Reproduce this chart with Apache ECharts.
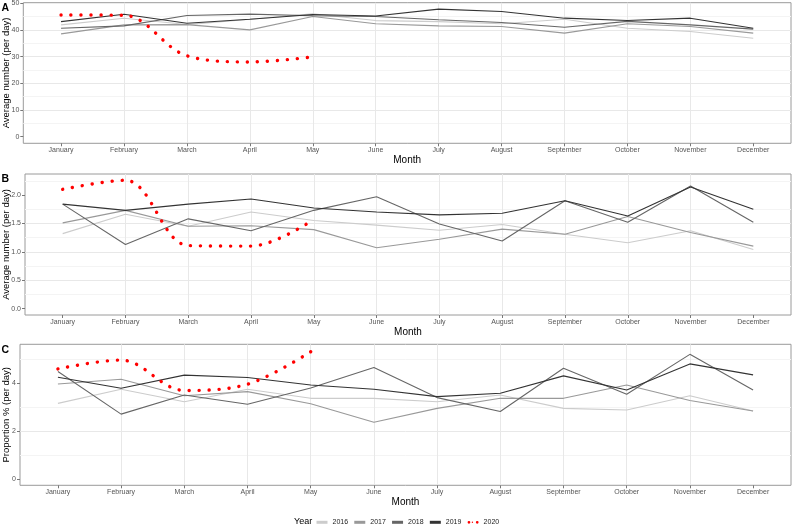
<!DOCTYPE html>
<html>
<head>
<meta charset="utf-8">
<script src="https://cdn.jsdelivr.net/npm/echarts@6/dist/echarts.min.js"></script>
<style>html,body{margin:0;padding:0;background:#fff}#c{width:793px;height:527px}</style>
</head>
<body>
<div id="c"></div>
<script>
const months = ['January','February','March','April','May','June','July','August','September','October','November','December'];
const years = ['2016','2017','2018','2019','2020'];

const a2016 = [41.9, 44.4, 42.0, 44.0, 46.0, 43.5, 43.1, 42.3, 44.0, 40.6, 39.4, 36.9];
const a2017 = [38.5, 41.9, 42.0, 40.0, 45.0, 42.3, 41.5, 41.3, 38.8, 42.3, 41.3, 38.8];
const a2018 = [40.6, 41.5, 45.4, 45.9, 45.3, 45.0, 43.8, 42.8, 41.0, 43.2, 41.9, 40.3];
const a2019 = [43.1, 45.9, 42.5, 44.0, 45.8, 45.2, 47.8, 46.9, 44.4, 43.5, 44.4, 40.6];
const a2020 = [45.6, 45.5, 30.3, 28.0, 29.9];

const b2016 = [1.32, 1.66, 1.45, 1.70, 1.55, 1.47, 1.38, 1.48, 1.31, 1.16, 1.37, 1.04];
const b2017 = [1.51, 1.73, 1.45, 1.46, 1.39, 1.07, 1.22, 1.40, 1.31, 1.62, 1.34, 1.10];
const b2018 = [1.84, 1.13, 1.58, 1.37, 1.73, 1.97, 1.49, 1.19, 1.90, 1.52, 2.16, 1.52];
const b2019 = [1.84, 1.73, 1.84, 1.93, 1.77, 1.70, 1.65, 1.68, 1.90, 1.63, 2.14, 1.75];
const b2020 = [2.10, 2.26, 1.11, 1.10, 1.57];

const c2016 = [3.16, 3.75, 3.23, 3.75, 3.37, 3.37, 3.23, 3.51, 2.95, 2.88, 3.48, 2.84];
const c2017 = [3.97, 4.17, 3.48, 3.65, 3.14, 2.37, 2.95, 3.37, 3.37, 3.93, 3.28, 2.84];
const c2018 = [4.49, 2.71, 3.51, 3.12, 3.80, 4.66, 3.40, 2.82, 4.63, 3.54, 5.21, 3.72];
const c2019 = [4.25, 3.79, 4.34, 4.24, 3.93, 3.75, 3.44, 3.58, 4.31, 3.72, 4.81, 4.35];
const c2020 = [4.60, 4.97, 3.70, 3.96, 5.32];

const yTicksA = [0, 10, 20, 30, 40, 50];
const yTicksB = [0.0, 0.5, 1.0, 1.5, 2.0];
const yTicksC = [0, 2, 4];

const FONT = "'Liberation Sans', Arial, sans-serif";
const lineColors = ['#cccccc', '#999999', '#666666', '#333333'];
const monthIdx = months.map((m, i) => i);

const panels = [
  {label: 'A', title: 'Average number (per day)', data: [a2016, a2017, a2018, a2019, a2020], ticks: yTicksA,
   grid: {left: 23.3, right: 2, top: 2.7, height: 140.6}, ymin: -2.5, ymax: 50.2, split: 5, gap: 12, fmt: v => String(v)},
  {label: 'B', title: 'Average number (per day)', data: [b2016, b2017, b2018, b2019, b2020], ticks: yTicksB,
   grid: {left: 25, right: 2, top: 174, height: 141}, ymin: -0.113, ymax: 2.37, split: 5, gap: 13.5, fmt: v => v.toFixed(1)},
  {label: 'C', title: 'Proportion % (per day)', data: [c2016, c2017, c2018, c2019, c2020], ticks: yTicksC,
   grid: {left: 20, right: 2, top: 344.3, height: 141}, ymin: -0.268, ymax: 5.63, split: 3, gap: 8.5, fmt: v => String(v)}
];

const grids = [], xAxes = [], yAxes = [], series = [];
panels.forEach((p, pi) => {
  grids.push(Object.assign({show: true, borderColor: '#9a9a9a', borderWidth: 1, backgroundColor: 'transparent',
    containLabel: false, outerBoundsMode: 'none'}, p.grid));
  xAxes.push({
    type: 'value', gridIndex: pi, min: -0.6, max: 11.6, splitNumber: 12,
    name: 'Month', nameLocation: 'middle', nameGap: 12, nameMoveOverlap: false,
    nameTextStyle: {fontFamily: FONT, fontSize: 10, color: '#000'},
    axisLine: {show: false, onZero: false},
    axisTick: {show: true, length: 3, customValues: monthIdx, lineStyle: {color: '#777', width: 1}},
    axisLabel: {customValues: monthIdx, margin: 3.5, fontFamily: FONT, fontSize: 7, color: '#555',
      formatter: v => (Number.isInteger(v) && v >= 0 && v < 12) ? months[v] : ''},
    splitLine: {show: true, showMinLine: false, showMaxLine: false, lineStyle: {color: '#e8e8e8', width: 1}}
  });
  yAxes.push({
    type: 'value', gridIndex: pi, min: p.ymin, max: p.ymax, splitNumber: p.split,
    name: p.title, nameLocation: 'middle', nameRotate: 90, nameGap: p.gap, nameMoveOverlap: false,
    nameTextStyle: {fontFamily: FONT, fontSize: 9.5, color: '#000'},
    axisLine: {show: false, onZero: false},
    axisTick: {show: true, length: 3, customValues: p.ticks, lineStyle: {color: '#777', width: 1}},
    axisLabel: {customValues: p.ticks, margin: 4, fontFamily: FONT, fontSize: 7, color: '#555', formatter: p.fmt},
    splitLine: {show: true, showMinLine: false, showMaxLine: false, lineStyle: {color: '#e8e8e8', width: 1}},
    minorTick: {show: false, splitNumber: 2},
    minorSplitLine: {show: true, lineStyle: {color: '#f4f4f4', width: 1}}
  });
  p.data.forEach((arr, si) => {
    const isRed = si === 4;
    series.push({
      name: years[si], type: 'line', xAxisIndex: pi, yAxisIndex: pi,
      data: arr.map((v, i) => [i, v]),
      symbol: 'none', silent: true, z: isRed ? 10 : 2 + si,
      smooth: isRed ? 0.35 : false,
      lineStyle: isRed
        ? {color: '#ff0000', width: 3.4, type: [0.1, 9.9], cap: 'round'}
        : {color: lineColors[si], width: 1.1},
      itemStyle: {color: isRed ? '#ff0000' : lineColors[si]}
    });
  });
});

const dotsIcon = 'path://M0,2a2,2 0 1,0 4,0a2,2 0 1,0 -4,0z M6,2a1,1 0 1,0 2,0a1,1 0 1,0 -2,0z M12,2a2,2 0 1,0 4,0a2,2 0 1,0 -4,0z';

const chart = echarts.init(document.getElementById('c'), null, {renderer: 'canvas'});
chart.setOption({
  animation: false,
  backgroundColor: '#fff',
  textStyle: {fontFamily: FONT},
  grid: grids, xAxis: xAxes, yAxis: yAxes, series: series,
  legend: {
    left: 316.5, top: 518.8, padding: 0, itemWidth: 11, itemHeight: 3, itemGap: 6.2,
    textStyle: {fontFamily: FONT, fontSize: 7, color: '#222'},
    data: [
      {name: '2016', icon: 'rect'},
      {name: '2017', icon: 'rect'},
      {name: '2018', icon: 'rect'},
      {name: '2019', icon: 'rect'},
      {name: '2020', icon: dotsIcon}
    ],
    selectedMode: false
  },
  graphic: [
    {type: 'text', left: 1.5, top: 3, style: {text: 'A', font: "bold 10.5px " + FONT, fill: '#000'}},
    {type: 'text', left: 1.5, top: 173.5, style: {text: 'B', font: "bold 10.5px " + FONT, fill: '#000'}},
    {type: 'text', left: 1.5, top: 344.5, style: {text: 'C', font: "bold 10.5px " + FONT, fill: '#000'}},
    {type: 'text', left: 294, top: 516.8, style: {text: 'Year', font: "9px " + FONT, fill: '#000'}}
  ]
});
</script>
</body>
</html>
